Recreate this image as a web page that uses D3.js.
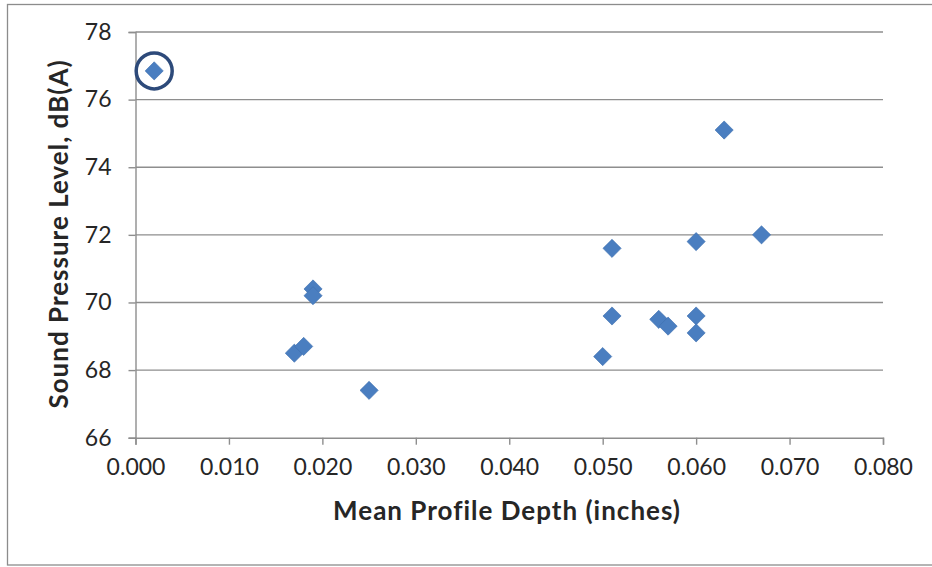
<!DOCTYPE html>
<html>
<head>
<meta charset="utf-8">
<script src="https://cdn.jsdelivr.net/npm/d3@7"></script>
<style>
html,body{margin:0;padding:0;background:#fff;}
svg{display:block;}
text{font-family:Lato,"Open Sans",sans-serif;fill:#262626;}
</style>
</head>
<body>
<svg id="chart" width="932" height="567"></svg>
<script>
// Data
const depth = [0.002, 0.017, 0.018, 0.019, 0.019, 0.025, 0.050, 0.051, 0.051, 0.056, 0.057, 0.060, 0.060, 0.060, 0.063, 0.067];
const spl   = [76.85, 68.5, 68.7, 70.4, 70.2, 67.4, 68.4, 71.6, 69.6, 69.5, 69.3, 71.8, 69.6, 69.1, 75.1, 72.0];
const highlighted = [0]; // index of circled point
const xTicks = [0, 0.01, 0.02, 0.03, 0.04, 0.05, 0.06, 0.07, 0.08];
const yTicks = [66, 68, 70, 72, 74, 76, 78];
const xTitle = "Mean Profile Depth (inches)";
const yTitle = "Sound Pressure Level, dB(A)";

const svg = d3.select("#chart");
const plot = {l: 135.5, r: 883, t: 32, b: 437.7};

// outer border
svg.append("rect").attr("x", 7.5).attr("y", 4.5).attr("width", 940).attr("height", 560.5)
  .attr("fill", "#fff").attr("stroke", "#8c8c8c").attr("stroke-width", 1.3);

const x = d3.scaleLinear().domain([0, 0.08]).range([plot.l, plot.r]);
const y = d3.scaleLinear().domain([66, 78]).range([plot.b, plot.t]);

// gridlines
svg.append("g").selectAll("line").data(yTicks.filter(d => d !== 66)).join("line")
  .attr("x1", plot.l).attr("x2", plot.r)
  .attr("y1", d => y(d)).attr("y2", d => y(d))
  .attr("stroke", "#8e8e8e").attr("stroke-width", 1.4);

// y axis
const yAxis = svg.append("g").attr("transform", `translate(${plot.l},0)`)
  .call(d3.axisLeft(y).tickValues(yTicks).tickFormat(d3.format("d")).tickSize(7).tickPadding(17));
yAxis.select(".domain").attr("stroke", "#8e8e8e").attr("stroke-width", 1.4);
yAxis.selectAll(".tick line").attr("stroke", "#8e8e8e").attr("stroke-width", 1.4);
yAxis.selectAll(".tick text").attr("font-size", 23).attr("font-family", "Lato").attr("fill", "#333");

// x axis
const xAxis = svg.append("g").attr("transform", `translate(0,${plot.b})`)
  .call(d3.axisBottom(x).tickValues(xTicks).tickFormat(d3.format(".3f")).tickSize(7).tickPadding(14));
xAxis.select(".domain").attr("stroke", "#8e8e8e").attr("stroke-width", 1.4);
xAxis.selectAll(".tick line").attr("stroke", "#8e8e8e").attr("stroke-width", 1.4);
xAxis.selectAll(".tick text").attr("font-size", 23).attr("font-family", "Lato").attr("fill", "#333");

// axis titles
svg.append("text").attr("x", 507).attr("y", 520).attr("text-anchor", "middle")
  .attr("font-size", 26).attr("letter-spacing", 1).attr("font-weight", "bold").attr("fill", "#1a1a1a").text(xTitle);
svg.append("text").attr("transform", "translate(68,234) rotate(-90)").attr("text-anchor", "middle")
  .attr("font-size", 26).attr("letter-spacing", 1).attr("font-weight", "bold").attr("fill", "#1a1a1a").text(yTitle);

// points
const pts = depth.map((d, i) => ({x: d, y: spl[i], i}));
svg.append("g").selectAll("path").data(pts).join("path")
  .attr("transform", d => `translate(${x(d.x)},${y(d.y)}) rotate(45)`)
  .attr("d", d3.symbol().type(d3.symbolSquare).size(165))
  .attr("fill", "#4a7ec0").attr("stroke", "#3f70b0").attr("stroke-width", 0.6);

// highlight circle
svg.append("g").selectAll("circle").data(highlighted.map(i => pts[i])).join("circle")
  .attr("cx", d => x(d.x)).attr("cy", d => y(d.y)).attr("r", 18)
  .attr("fill", "none").attr("stroke", "#2d4a7a").attr("stroke-width", 3.5);
</script>
</body>
</html>
